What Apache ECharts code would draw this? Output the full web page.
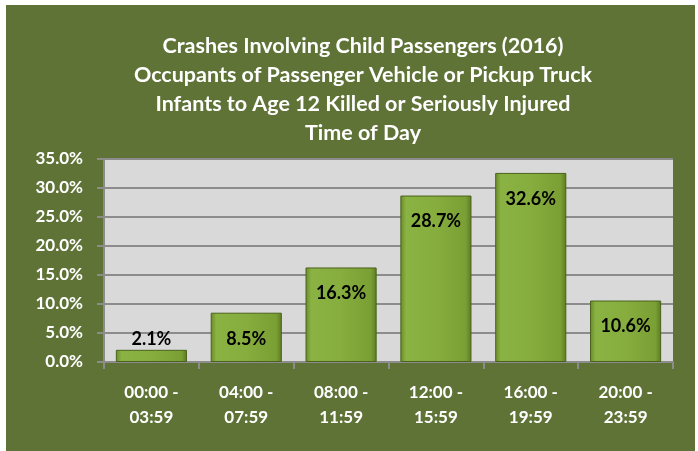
<!DOCTYPE html>
<html>
<head>
<meta charset="utf-8">
<script src="https://cdn.jsdelivr.net/npm/echarts@6/dist/echarts.min.js"></script>
<style>
html,body{margin:0;padding:0;background:#fff;}
#c{width:698px;height:451px;}
</style>
</head>
<body>
<div id="c"></div>
<script>
const titleLines = [
  'Crashes Involving Child Passengers (2016)',
  'Occupants of Passenger Vehicle or Pickup Truck',
  'Infants to Age 12 Killed or Seriously Injured',
  'Time of Day'
];
const categories = ['00:00 -\n03:59','04:00 -\n07:59','08:00 -\n11:59','12:00 -\n15:59','16:00 -\n19:59','20:00 -\n23:59'];
const values = [2.1, 8.5, 16.3, 28.7, 32.6, 10.6];
const yTicks = [0, 5, 10, 15, 20, 25, 30, 35];

const chart = echarts.init(document.getElementById('c'), null, {renderer:'canvas'});
const font = 'Lato, "Open Sans", sans-serif';
const barGrad = new echarts.graphic.LinearGradient(0,0,1,0,[
  {offset:0,color:'#6a8a2a'},
  {offset:0.08,color:'#8ab343'},
  {offset:0.5,color:'#86ad3e'},
  {offset:0.92,color:'#7a9f34'},
  {offset:1,color:'#5c7a22'}
]);
chart.setOption({
  animation:false,
  backgroundColor:'#ffffff',
  graphic:[{type:'rect',z:-10,shape:{x:6,y:5,width:689,height:446},style:{fill:'#5f7337'}}],
  title:{
    text:titleLines.join('\n'),
    left:358, top:27, textAlign:'center',
    textStyle:{color:'#ffffff',fontFamily:font,fontWeight:'bold',fontSize:21.5,lineHeight:29}
  },
  grid:{left:104,right:25,top:159,bottom:89,show:true,backgroundColor:'#d9d9d9',borderWidth:0},
  xAxis:{
    type:'category',data:categories,
    axisLine:{lineStyle:{color:'#8c8c8c',width:2}},
    axisTick:{show:true,length:7,lineStyle:{color:'#8c8c8c',width:2}},
    axisLabel:{color:'#ffffff',fontFamily:font,fontWeight:'bold',fontSize:17,lineHeight:25,margin:18}
  },
  yAxis:{
    type:'value',min:yTicks[0],max:yTicks[yTicks.length-1],interval:5,
    axisLine:{show:true,lineStyle:{color:'#8c8c8c',width:2}},
    axisTick:{show:true,length:7,lineStyle:{color:'#8c8c8c',width:2}},
    splitLine:{lineStyle:{color:'#8c8c8c',width:2}},
    axisLabel:{color:'#ffffff',fontFamily:font,fontWeight:'bold',fontSize:17,margin:21,
      formatter:v=>v.toFixed(1)+'%'}
  },
  series:[{
    type:'bar',
    data:values.map(v=>({value:v,label:{position:v<5?'top':'insideTop',distance:v<5?2:17}})),
    barCategoryGap:'25%',
    itemStyle:{color:barGrad,borderColor:'#4a621c',borderWidth:1},
    label:{show:true,color:'#000',fontFamily:font,fontWeight:'bold',fontSize:18,
      formatter:p=>p.value.toFixed(1)+'%'}
  }]
});
</script>
</body>
</html>
